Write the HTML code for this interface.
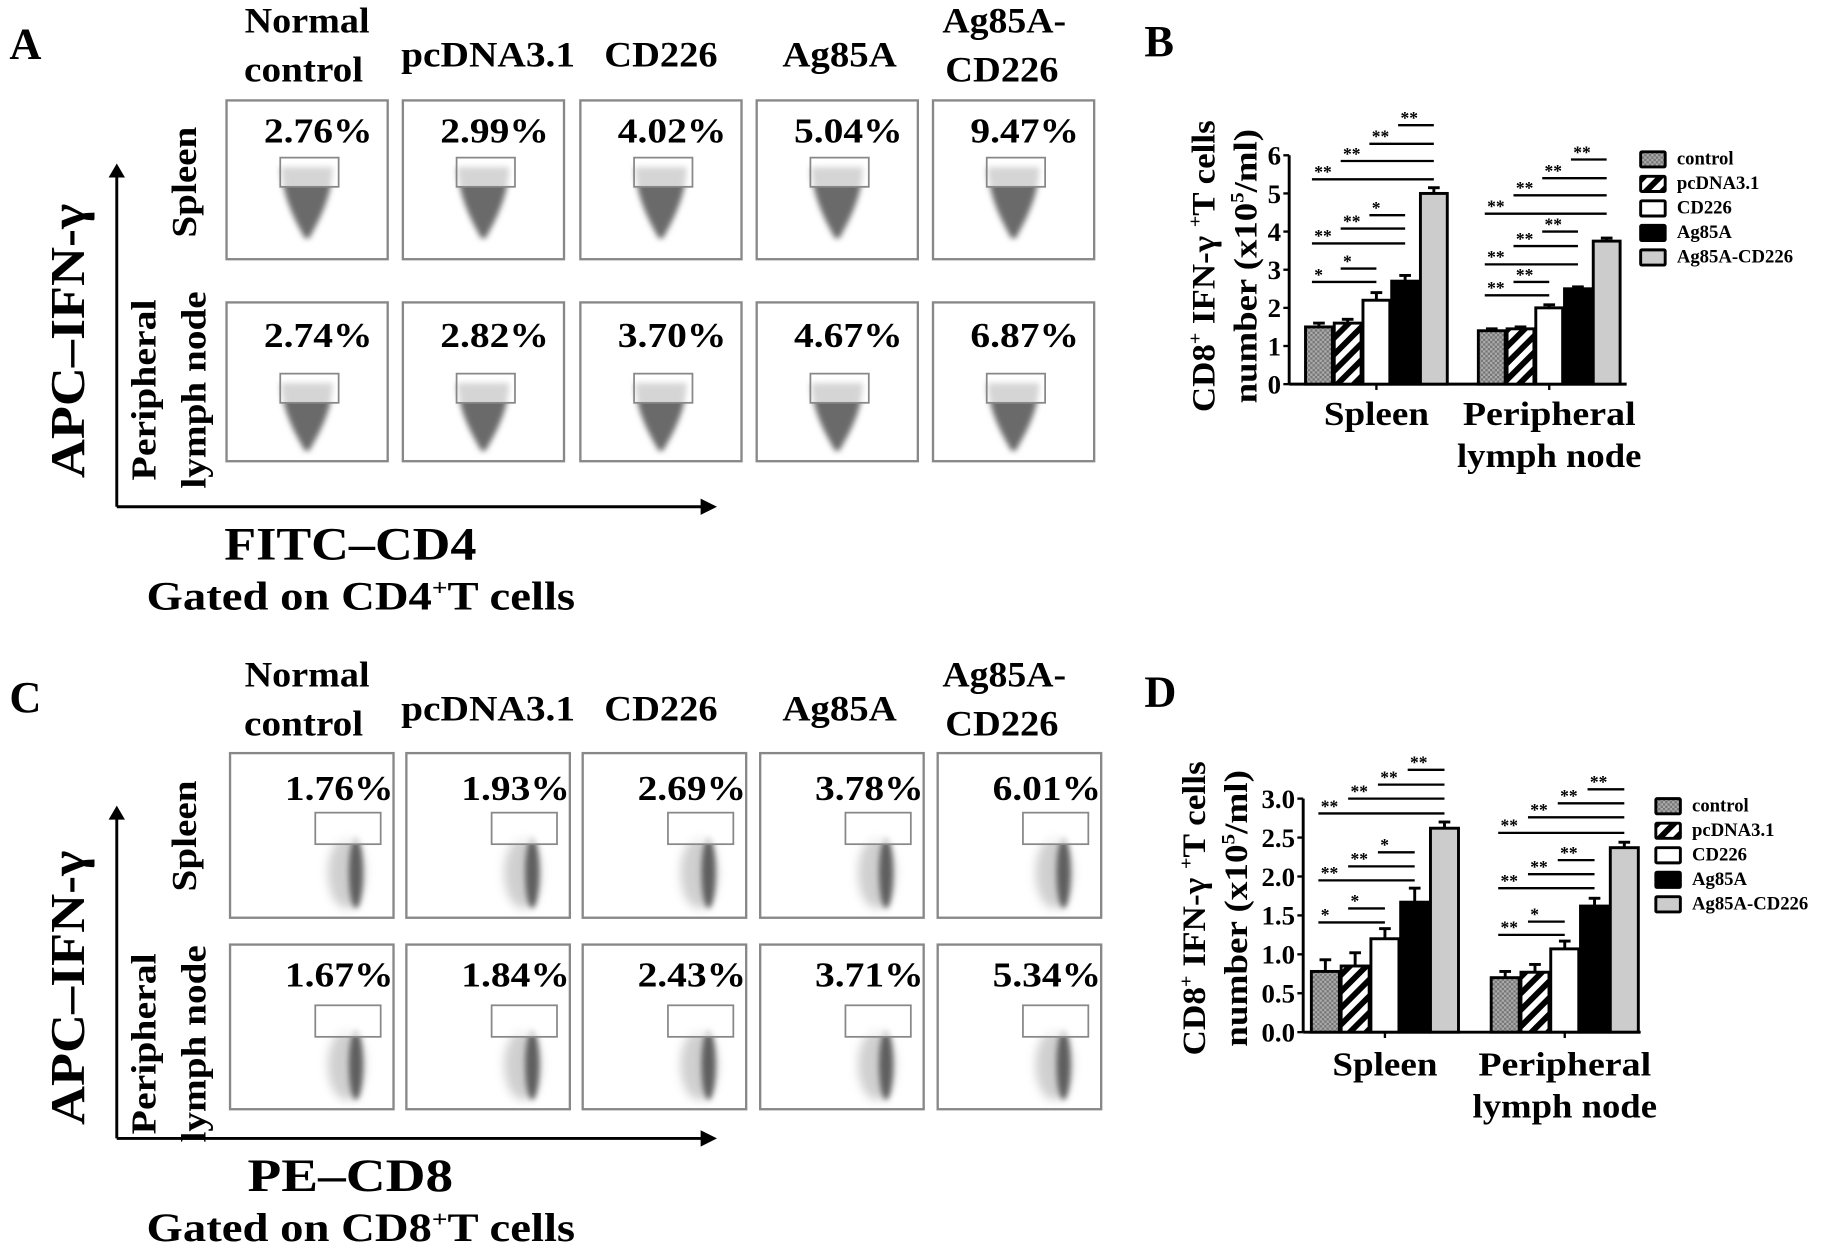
<!DOCTYPE html>
<html><head><meta charset="utf-8"><style>
html,body{margin:0;padding:0;background:#fff;}
svg{display:block;}
text{font-family:"Liberation Serif",serif;font-weight:bold;fill:#000;}
</style></head><body>
<svg id="fig" width="1831" height="1247" viewBox="0 0 1568 1068" preserveAspectRatio="none" xmlns="http://www.w3.org/2000/svg">
<defs>
<pattern id="pCtrl" width="4" height="4" patternUnits="userSpaceOnUse"><rect width="4" height="4" fill="#aaa"/><rect width="2" height="2" fill="#777"/><rect x="2" y="2" width="2" height="2" fill="#777"/></pattern>
<pattern id="pStripe" width="10" height="10" patternUnits="userSpaceOnUse" patternTransform="rotate(45)"><rect width="10" height="10" fill="#fff"/><rect width="5" height="10" fill="#000"/></pattern>
<filter id="blur" x="-50%" y="-50%" width="200%" height="200%"><feGaussianBlur stdDeviation="2.5"/></filter>
<filter id="blur2" x="-50%" y="-50%" width="200%" height="200%"><feGaussianBlur stdDeviation="4"/></filter>
</defs>
<g id="root"></g>
</svg>
<script>
// ---- Flow cytometry percentages ----
var groups = ["Normal control","pcDNA3.1","CD226","Ag85A","Ag85A-CD226"];
var pctA_spleen = ["2.76%","2.99%","4.02%","5.04%","9.47%"];
var pctA_pln = ["2.74%","2.82%","3.70%","4.67%","6.87%"];
var pctC_spleen = ["1.76%","1.93%","2.69%","3.78%","6.01%"];
var pctC_pln = ["1.67%","1.84%","2.43%","3.71%","5.34%"];
// ---- Bar charts ----
var seriesNames = ["control","pcDNA3.1","CD226","Ag85A","Ag85A-CD226"];
var categories = ["Spleen","Peripheral lymph node"];
var B_spleen = [1.5,1.6,2.2,2.7,5.0];
var B_spleenErr = [0.1,0.1,0.2,0.15,0.15];
var B_pln = [1.4,1.45,2.0,2.5,3.75];
var B_plnErr = [0.05,0.05,0.08,0.05,0.08];
var B_ticks = ["0","1","2","3","4","5","6"];
var B_sigSpleen = [[0,2,2.68,"*"],[1,2,3.03,"*"],[0,3,3.69,"**"],[1,3,4.08,"**"],[2,3,4.43,"*"],[0,4,5.37,"**"],[1,4,5.85,"**"],[2,4,6.3,"**"],[3,4,6.79,"**"]];
var B_sigPln = [[0,2,2.33,"**"],[1,2,2.68,"**"],[0,3,3.14,"**"],[1,3,3.62,"**"],[2,3,4.0,"**"],[0,4,4.47,"**"],[1,4,4.95,"**"],[2,4,5.4,"**"],[3,4,5.89,"**"]];
var D_spleen = [0.78,0.85,1.2,1.67,2.62];
var D_spleenErr = [0.15,0.17,0.13,0.18,0.08];
var D_pln = [0.7,0.77,1.07,1.62,2.37];
var D_plnErr = [0.08,0.1,0.1,0.1,0.07];
var D_ticks = ["0.0","0.5","1.0","1.5","2.0","2.5","3.0"];
var D_sigSpleen = [[0,2,1.41,"*"],[1,2,1.59,"*"],[0,3,1.95,"**"],[1,3,2.13,"**"],[2,3,2.31,"*"],[0,4,2.81,"**"],[1,4,3.0,"**"],[2,4,3.18,"**"],[3,4,3.37,"**"]];
var D_sigPln = [[0,2,1.25,"**"],[1,2,1.42,"*"],[0,3,1.85,"**"],[1,3,2.03,"**"],[2,3,2.21,"**"],[0,4,2.56,"**"],[1,4,2.76,"**"],[2,4,2.94,"**"],[3,4,3.12,"**"]];

var NS="http://www.w3.org/2000/svg";
var root=document.getElementById('root');
function el(tag,attrs,parent,txt){var e=document.createElementNS(NS,tag);for(var k in attrs)e.setAttribute(k,attrs[k]);if(txt!==undefined)e.textContent=txt;(parent||root).appendChild(e);return e;}
function txt(x,y,s,size,parent,anchor,extra){var a={x:x,y:y,'font-size':size,'text-anchor':anchor||'middle'};if(extra)for(var k in extra)a[k]=extra[k];return el('text',a,parent,s);}
function fit(len){return {textLength:len,lengthAdjust:'spacingAndGlyphs'};}

// ===== Flow panels =====
function flowPanel(oy,letter,cfg){
  var g=el('g',{});
  
  
  var t=txt(8,oy+50,letter,38,g,'start');
  
  
  var hdr=[[263,28,"Normal",107],[260,70,"control",102],[418,57,"pcDNA3.1",149],[566,57,"CD226",97],[719,57,"Ag85A",98],[860,28,"Ag85A-",106],[858,70,"CD226",97]];
  hdr.forEach(function(h){
    var e=txt(h[0],oy+h[1],h[2],31,g,'middle',fit(h[3]));
    
    
  });
  for(var r=0;r<2;r++){
    for(var c=0;c<5;c++){
      var bx=cfg.boxXs[c], by=cfg.rowYs[r], bw=cfg.boxW, bh=cfg.boxH;
      var cell=el('g',{},g);
      
      
      el('rect',{x:bx,y:by,width:bw,height:bh,fill:'#fff',stroke:'#888','stroke-width':2},cell);
      var gx=bx+cfg.gateDX, gy=by+cfg.gateDY[r], gw=cfg.gateW, gh=cfg.gateH;
      var bot=by+bh-cfg.blobBot[r];
      if(!cfg.narrow){
        var cx=gx+gw/2-2, top=gy+8, w=44;
        el('path',{d:'M'+(cx-w/2)+','+top+' L'+(cx+w/2)+','+top+' C'+(cx+w/2)+','+(top+(bot-top)*0.45)+' '+(cx+6)+','+(bot-8)+' '+(cx+2)+','+bot+' L'+(cx-2)+','+bot+' C'+(cx-6)+','+(bot-8)+' '+(cx-w/2)+','+(top+(bot-top)*0.45)+' '+(cx-w/2)+','+top+'Z',fill:'#6a6a6a',filter:'url(#blur)'},cell);
      } else {
        var cx2=gx+gw*0.62, top2=gy+gh-6;
        el('ellipse',{cx:cx2-8,cy:(top2+bot)/2,rx:16,ry:(bot-top2)/2,fill:'#c4c4c4',filter:'url(#blur2)',opacity:0.8},cell);
        el('ellipse',{cx:cx2,cy:(top2+bot)/2,rx:6,ry:(bot-top2)/2,fill:'#5f5f5f',filter:'url(#blur)'},cell);
      }
      el('rect',{x:gx,y:gy,width:gw,height:gh,fill:'rgba(255,255,255,0.72)',stroke:'#888','stroke-width':1.5},cell);
      var p=txt(bx+bw-cfg.pctRight,by+cfg.pctDY[r],cfg.pcts[r][c],30,cell,'end',fit(cfg.pctLen));
      
      
    }
  }
  var ax=cfg.ax;
  el('line',{x1:100,y1:ax.y0,x2:100,y2:ax.y1+10,stroke:'#000','stroke-width':2.5},g);
  el('path',{d:'M93,'+(ax.y1+12)+' L100,'+ax.y1+' L107,'+(ax.y1+12)+'Z'},g);
  el('line',{x1:100,y1:ax.y0,x2:602,y2:ax.y0,stroke:'#000','stroke-width':2.5},g);
  el('path',{d:'M600,'+(ax.y0-7)+' L614,'+ax.y0+' L600,'+(ax.y0+7)+'Z'},g);
  var yl=txt(0,0,"APC–IFN-γ",42,g,'middle',{transform:'translate(72,'+ax.ylabY+') rotate(-90)',textLength:235,lengthAdjust:'spacingAndGlyphs'});
  
  
  var s1=txt(0,0,"Spleen",30,g,'middle',{transform:'translate(168,'+ax.spY+') rotate(-90)',textLength:95,lengthAdjust:'spacingAndGlyphs'});
  
  
  var s2=txt(0,0,"Peripheral",30,g,'middle',{transform:'translate(133,'+ax.plnY+') rotate(-90)',textLength:155,lengthAdjust:'spacingAndGlyphs'});
  
  
  txt(0,0,"lymph node",30,g,'middle',{transform:'translate(176,'+ax.plnY+') rotate(-90)',textLength:169,lengthAdjust:'spacingAndGlyphs'});
  var xl=txt(300,ax.y0+45,cfg.xLabel,40,g,'middle',fit(cfg.xLen));
  
  
  var gl=el('text',{x:309,y:ax.y0+88,'font-size':34,'text-anchor':'middle',textLength:367,lengthAdjust:'spacingAndGlyphs'},g);
  
  
  el('tspan',{},gl,"Gated on "+cfg.gateLabel);
  el('tspan',{'font-size':20,dy:-12},gl,"+");
  el('tspan',{dy:12},gl,"T cells");
}
flowPanel(0,"A",{boxXs:[194,345,497,648,799],rowYs:[86,259],boxW:138,boxH:136,pcts:[pctA_spleen,pctA_pln],gateDX:46,gateW:50,gateH:25,gateDY:[49,61],pctDY:[36,38],pctRight:13,pctLen:93,blobBot:[18,9],narrow:false,xLabel:"FITC–CD4",xLen:216,gateLabel:"CD4",ax:{y0:434,y1:140,ylabY:292,spY:156,plnY:334}});
flowPanel(560,"C",{boxXs:[197,348,499,651,803],rowYs:[645,809],boxW:140,boxH:141,pcts:[pctC_spleen,pctC_pln],gateDX:73,gateW:56,gateH:27,gateDY:[51,52],pctDY:[40,36],pctRight:0,pctLen:93,blobBot:[8,8],narrow:true,xLabel:"PE–CD8",xLen:176,gateLabel:"CD8",ax:{y0:975,y1:690,ylabY:846,spY:716,plnY:894}});

// ===== Bar charts =====
var fills=['url(#pCtrl)','url(#pStripe)','#fff','#000','#ccc'];
function barChart(letter,o){
  var g=el('g',{});
  
  
  var L=txt(o.lx,o.ly,letter,38,g,'start');
  
  
  function y(v){return o.y0-(v/o.max)*(o.y0-o.yTop);}
  el('line',{x1:o.ax,y1:o.yTop,x2:o.ax,y2:o.y0,stroke:'#000','stroke-width':2.5},g);
  el('line',{x1:o.ax,y1:o.y0,x2:o.axEnd,y2:o.y0,stroke:'#000','stroke-width':2.5},g);
  for(var i=0;i<o.ticks.length;i++){
    var v=parseFloat(o.ticks[i]);
    el('line',{x1:o.ax-5,y1:y(v),x2:o.ax,y2:y(v),stroke:'#000','stroke-width':2},g);
    var tk=txt(o.ax-7,y(v)+8,o.ticks[i],23,g,'end');
    
    
  }
  var groupsData=[[o.s,o.se,o.sig1,o.x1],[o.p,o.pe,o.sig2,o.x2]];
  groupsData.forEach(function(gd,gi){
    var mid=gd[3]+o.step*2+o.bw/2;
    el('line',{x1:mid,y1:o.y0,x2:mid,y2:o.y0+5,stroke:'#000','stroke-width':2},g);
    for(var k=0;k<5;k++){
      var bx=gd[3]+k*o.step, top=y(gd[0][k]), et=y(gd[0][k]+gd[1][k]);
      var cx=bx+o.bw/2;
      el('line',{x1:cx,y1:top,x2:cx,y2:et,stroke:'#000','stroke-width':2.5},g);
      el('line',{x1:cx-5,y1:et,x2:cx+5,y2:et,stroke:'#000','stroke-width':2.5},g);
      var b=el('rect',{x:bx,y:top,width:o.bw,height:o.y0-top,fill:fills[k],stroke:'#000','stroke-width':2.5},g);
      
      
    }
    gd[2].forEach(function(sg){
      var xa=gd[3]+sg[0]*o.step+o.bw/2-6, xb=gd[3]+sg[1]*o.step+o.bw/2, yy=y(sg[2]);
      var ln=el('line',{x1:xa,y1:yy,x2:xb,y2:yy,stroke:'#000','stroke-width':2},g);
      
      
      txt(xa+2,yy-1,sg[3],15,g,'start');
    });
  });
  var c1=txt(o.x1+o.step*2+o.bw/2,o.catY,categories[0],29,g,'middle',fit(90));
  
  
  var c2=txt(o.x2+o.step*2+o.bw/2,o.catY,"Peripheral",29,g,'middle',fit(148));
  
  
  txt(o.x2+o.step*2+o.bw/2,o.catY+36,"lymph node",29,g,'middle',fit(158));
  var t1=el('text',{'font-size':28,'text-anchor':'middle',transform:'translate('+o.t1x+','+o.ty+') rotate(-90)',textLength:o.tLen,lengthAdjust:'spacingAndGlyphs'},g);
  
  
  el('tspan',{},t1,"CD8");el('tspan',{'font-size':16,dy:-11},t1,"+");el('tspan',{dy:11},t1," IFN-γ ");
  el('tspan',{'font-size':16,dy:-11},t1,"+");el('tspan',{dy:11},t1,"T cells");
  var t2=el('text',{'font-size':28,'text-anchor':'middle',transform:'translate('+o.t2x+','+o.ty+') rotate(-90)',textLength:o.tLen-15,lengthAdjust:'spacingAndGlyphs'},g);
  el('tspan',{},t2,"number (x10");el('tspan',{'font-size':16,dy:-11},t2,"5");el('tspan',{dy:11},t2,"/ml)");
  for(var k=0;k<5;k++){
    var ly=o.legY+k*21;
    var lg=el('g',{},g);
    
    
    el('rect',{x:o.legX,y:ly-6,width:21,height:13,fill:fills[k],stroke:'#000','stroke-width':2.5,rx:1},lg);
    txt(o.legX+31,ly+5,seriesNames[k],16,lg,'start');
  }
}
barChart("B",{lx:980,ly:48,ax:1104,axEnd:1393,y0:329,yTop:133,max:6,ticks:B_ticks,s:B_spleen,se:B_spleenErr,p:B_pln,pe:B_plnErr,sig1:B_sigSpleen,sig2:B_sigPln,x1:1118,x2:1266,step:24.6,bw:23,catY:364,t1x:1040,t2x:1076,ty:228,tLen:250,legX:1405,legY:136});
barChart("D",{lx:980,ly:605,ax:1116,axEnd:1405,y0:884,yTop:684,max:3,ticks:D_ticks,s:D_spleen,se:D_spleenErr,p:D_pln,pe:D_plnErr,sig1:D_sigSpleen,sig2:D_sigPln,x1:1123,x2:1277,step:25.5,bw:24,catY:921,t1x:1032,t2x:1068,ty:778,tLen:252,legX:1418,legY:690});
</script>
</body></html>
